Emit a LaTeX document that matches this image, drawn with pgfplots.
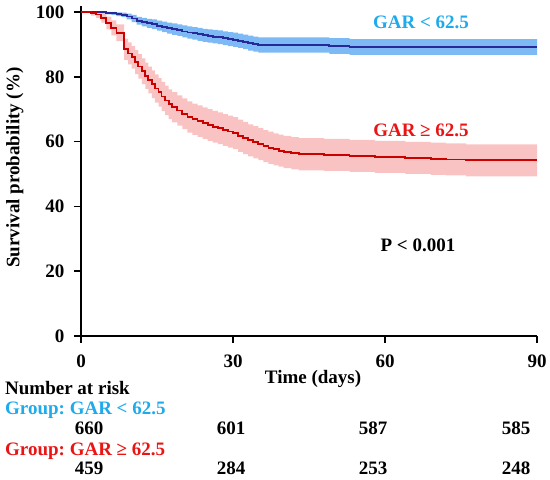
\documentclass[border=0pt]{standalone}
\usepackage{fontspec}
\setmainfont{Liberation Serif}
\usepackage{pgfplots}
\pgfplotsset{compat=1.18}
\usepgfplotslibrary{fillbetween}
\usepackage{pgfplotstable}
\definecolor{bline}{RGB}{40,40,150}
\definecolor{bband}{RGB}{125,185,245}
\definecolor{rline}{RGB}{205,0,0}
\definecolor{rband}{RGB}{250,195,195}
\definecolor{blab}{RGB}{30,170,235}
\definecolor{rlab}{RGB}{235,20,20}

\pgfplotstableread{
t s lo hi
0 100 100 100
4 99.9 99.7 100
5 99.7 99.3 100
6 99.6 99.1 100
7 99.3 98.7 99.9
8 99.1 98.4 99.8
9 98.6 97.7 99.5
10 98.0 96.9 99.1
11 97.3 96.1 98.5
12 96.9 95.6 98.2
13 96.5 95.1 97.9
14 96.2 94.7 97.7
15 95.8 94.25 97.35
16 95.4 93.8 97.0
17 95.0 93.3 96.7
18 94.7 92.95 96.45
19 94.4 92.6 96.2
20 94.0 92.15 95.85
21 93.7 91.8 95.6
22 93.4 91.45 95.35
23 93.1 91.1 95.1
24 92.8 90.8 94.8
25 92.6 90.55 94.65
26 92.4 90.35 94.45
27 92.2 90.1 94.3
28 91.9 89.8 94.0
29 91.6 89.45 93.75
30 91.4 89.2 93.6
31 91.1 88.9 93.3
32 90.8 88.55 93.05
33 90.4 88.1 92.7
34 90.1 87.8 92.4
35 89.8 87.45 92.15
49 89.5 87.1 91.9
53 89.2 86.75 91.65
90 89.2 86.75 91.65
}\bluetab

\pgfplotstableread{
t s lo hi
0 100 100 100
2 99.6 98.9 100
3 99.2 98.2 100
4 98.2 96.7 99.7
5 96.6 94.6 98.6
6 95.1 92.8 97.4
7 93.6 91.0 96.2
8.5 88.5 85.2 91.8
9.3 87.2 83.8 90.6
10 86.0 82.5 89.5
10.7 84.5 80.8 88.2
11.3 83.2 79.4 87.0
12 81.7 77.75 85.65
12.7 80.3 76.25 84.35
13.3 79.0 74.85 83.15
14 77.7 73.45 81.95
14.6 76.4 72.05 80.75
15.3 75.2 70.8 79.6
15.9 73.9 69.4 78.4
16.6 72.7 68.15 77.25
17.3 71.5 66.9 76.1
18 70.6 65.95 75.25
19 69.6 64.9 74.3
20 68.6 63.85 73.35
21 67.6 62.8 72.4
22 66.9 62.1 71.7
23 66.3 61.45 71.15
24 65.7 60.85 70.55
25 65.1 60.2 70.0
26 64.6 59.7 69.5
27 64.1 59.2 69.0
28 63.6 58.7 68.5
29 63.1 58.15 68.05
30 62.6 57.65 67.55
31 61.8 56.85 66.75
32 61.1 56.15 66.05
33 60.4 55.45 65.35
34 59.8 54.85 64.75
35 59.2 54.25 64.15
36 58.6 53.65 63.55
37 58.1 53.15 63.05
38 57.6 52.65 62.55
39 57.2 52.25 62.15
40 56.8 51.85 61.75
41.5 56.4 51.45 61.35
43 56.1 51.15 61.05
48 55.9 50.95 60.85
53 55.6 50.65 60.55
58 55.3 50.35 60.25
64 55.0 50.05 59.95
69 54.7 49.75 59.65
72 54.5 49.55 59.45
76 54.2 49.25 59.15
90 54.2 49.25 59.15
}\redtab

\newcommand{\bigf}{\fontsize{19bp}{22bp}\selectfont\bfseries}
\frenchspacing

\begin{document}
\begin{tikzpicture}[font=\bigf]
\begin{axis}[
  at={(0,0)}, anchor=south west,
  scale only axis, width=456bp, height=324bp,
  xmin=0, xmax=90, ymin=0, ymax=100,
  axis x line*=bottom, axis y line*=left,
  axis line style={line width=1.6bp, -},
  y axis line style={shorten >=-6bp},
  xtick={0,30,60,90}, ytick={0,20,40,60,80,100},
  tick align=outside, major tick length=7bp,
  tick style={line width=1.5bp, black},
  /pgf/number format/assume math mode=true,
  ticklabel style={font=\bigf},
  xticklabel style={yshift=-8bp},
  yticklabel style={xshift=-6bp},
  xlabel={Time (days)}, ylabel={Survival probability (\%)},
  xlabel style={at={(axis description cs:0.509,-0.1466)}, anchor=base},
  ylabel style={at={(axis description cs:-0.145,0.52)}, anchor=center},
  clip=false,
]
\addplot[draw=none, const plot, name path=bu, forget plot] table[x=t, y=hi] {\bluetab};
\addplot[draw=none, const plot, name path=bl, forget plot] table[x=t, y=lo] {\bluetab};
\addplot[bband, draw=none, forget plot] fill between[of=bu and bl];
\addplot[draw=none, const plot, name path=ru, forget plot] table[x=t, y=hi] {\redtab};
\addplot[draw=none, const plot, name path=rl, forget plot] table[x=t, y=lo] {\redtab};
\addplot[rband, draw=none, forget plot] fill between[of=ru and rl];
\addplot[bline, line width=1.8bp, const plot] table[x=t, y=s] {\bluetab};
\addplot[rline, line width=1.8bp, const plot] table[x=t, y=s] {\redtab};
\node[blab] at (axis cs:67.1,96.8) {GAR < 62.5};
\node[rlab] at (axis cs:67.1,63.4) {GAR ≥ 62.5};
\node[black] at (axis cs:66.5,28.1) {P < 0.001};
\end{axis}
\node[anchor=base west, inner sep=0] at (-76bp,-58.2bp) {Number at risk};
\node[anchor=base west, inner sep=0, text=blab] at (-76bp,-78bp) {Group: GAR < 62.5};
\node[anchor=base west, inner sep=0, text=rlab] at (-76bp,-119.2bp) {Group: GAR ≥ 62.5};
\foreach \x/\a/\b in {8/660/459, 150/601/284, 292/587/253, 435/585/248}{
  \node[anchor=base, inner sep=0] at (\x bp,-98bp) {\a};
  \node[anchor=base, inner sep=0] at (\x bp,-138bp) {\b};
}
\pgfresetboundingbox
\path[use as bounding box] (-81bp,-144bp) rectangle (469bp,336bp);
\end{tikzpicture}
\end{document}
